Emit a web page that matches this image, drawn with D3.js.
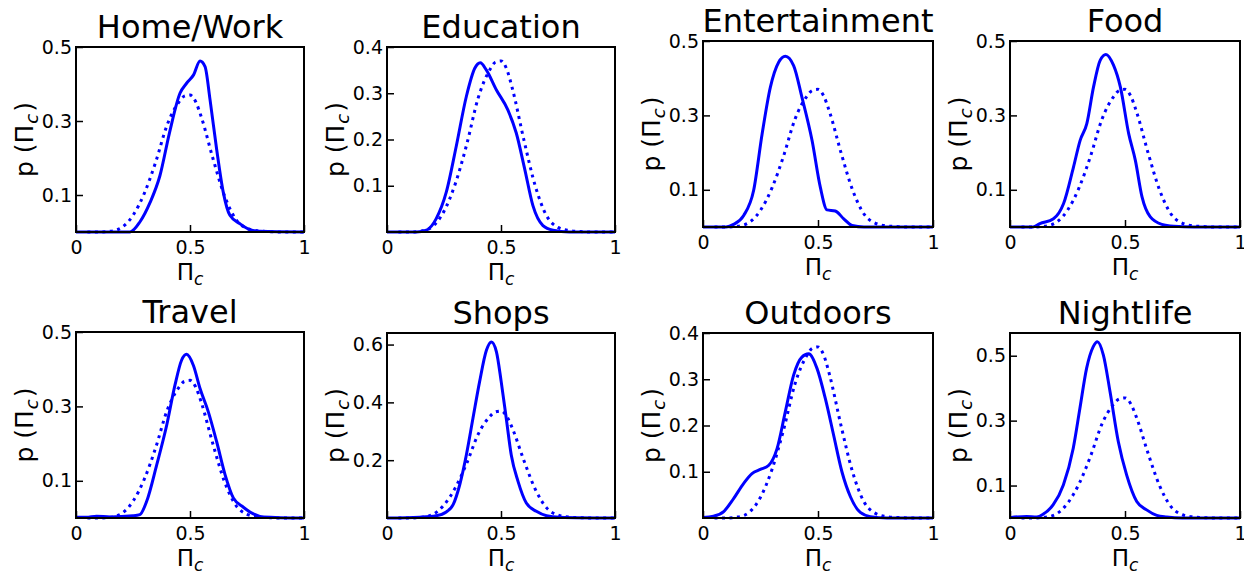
<!DOCTYPE html>
<html>
<head>
<meta charset="utf-8">
<script src="https://cdn.jsdelivr.net/npm/d3@7"></script>
<style>
  body { margin: 0; background: #fff; }
  svg { display: block; font-family: "DejaVu Sans", sans-serif; }
</style>
</head>
<body>
<svg id="chart" width="1244" height="571"></svg>
<script>
// panel titles
const titles = ['Home/Work', 'Education', 'Entertainment', 'Food', 'Travel', 'Shops', 'Outdoors', 'Nightlife'];

// y axis top and tick labels per panel
const yMax = [0.5, 0.4, 0.5, 0.5, 0.5, 0.64, 0.4, 0.57];
const yTicks = [
  [0.1, 0.3, 0.5], [0.1, 0.2, 0.3, 0.4], [0.1, 0.3, 0.5], [0.1, 0.3, 0.5],
  [0.1, 0.3, 0.5], [0.2, 0.4, 0.6], [0.1, 0.2, 0.3, 0.4], [0.1, 0.3, 0.5]
];
const xTicks = [0, 0.5, 1];

// null model (dotted), same in every panel
const nullX = [0.05, 0.1, 0.15, 0.2, 0.25, 0.3, 0.35, 0.4, 0.45, 0.475, 0.5, 0.525, 0.55, 0.6, 0.65, 0.7, 0.75, 0.8, 0.85, 0.9, 1];
const nullY = [0, 0, 0.002, 0.012, 0.045, 0.105, 0.19, 0.29, 0.35, 0.367, 0.37, 0.352, 0.31, 0.2, 0.1, 0.035, 0.01, 0.003, 0.001, 0, 0];

// observed densities (solid)
const homeWorkX = [0, 0.237, 0.28, 0.325, 0.368, 0.41, 0.456, 0.485, 0.515, 0.544, 0.566, 0.588, 0.617, 0.646, 0.675, 0.72, 0.763, 0.807, 1];
const homeWorkY = [0, 0, 0.027, 0.08, 0.152, 0.268, 0.375, 0.402, 0.424, 0.462, 0.447, 0.357, 0.223, 0.107, 0.045, 0.022, 0.006, 0.002, 0];

const educationX = [0, 0.13, 0.173, 0.216, 0.26, 0.304, 0.348, 0.385, 0.409, 0.436, 0.48, 0.53, 0.567, 0.604, 0.64, 0.684, 0.728, 0.8, 1];
const educationY = [0, 0, 0.004, 0.029, 0.086, 0.186, 0.293, 0.354, 0.366, 0.35, 0.307, 0.264, 0.214, 0.136, 0.057, 0.014, 0.004, 0, 0];

const entertainmentX = [0, 0.1, 0.133, 0.177, 0.22, 0.257, 0.293, 0.329, 0.358, 0.394, 0.43, 0.474, 0.51, 0.539, 0.575, 0.612, 0.648, 0.7, 1];
const entertainmentY = [0, 0, 0.007, 0.031, 0.098, 0.25, 0.376, 0.443, 0.459, 0.434, 0.349, 0.233, 0.107, 0.046, 0.043, 0.022, 0.004, 0, 0];

const foodX = [0, 0.1, 0.13, 0.189, 0.233, 0.276, 0.305, 0.334, 0.363, 0.392, 0.417, 0.45, 0.48, 0.516, 0.545, 0.574, 0.61, 0.66, 0.712, 0.8, 1];
const foodY = [0, 0, 0.009, 0.022, 0.063, 0.161, 0.233, 0.278, 0.376, 0.448, 0.464, 0.435, 0.376, 0.251, 0.179, 0.081, 0.027, 0.007, 0.002, 0, 0];

const travelX = [0, 0.045, 0.09, 0.15, 0.25, 0.28, 0.31, 0.354, 0.398, 0.434, 0.463, 0.485, 0.515, 0.544, 0.58, 0.617, 0.654, 0.69, 0.734, 0.778, 0.82, 1];
const travelY = [0.002, 0.002, 0.005, 0.003, 0.006, 0.009, 0.045, 0.143, 0.25, 0.357, 0.424, 0.44, 0.41, 0.348, 0.286, 0.205, 0.116, 0.054, 0.029, 0.011, 0.003, 0];

const shopsX = [0, 0.143, 0.216, 0.26, 0.29, 0.319, 0.348, 0.377, 0.406, 0.436, 0.458, 0.48, 0.501, 0.523, 0.545, 0.575, 0.611, 0.655, 0.7, 0.757, 1];
const shopsY = [0, 0.003, 0.008, 0.021, 0.046, 0.115, 0.218, 0.345, 0.471, 0.58, 0.609, 0.575, 0.471, 0.345, 0.218, 0.126, 0.052, 0.023, 0.008, 0.003, 0];

const outdoorsX = [0, 0.046, 0.09, 0.133, 0.177, 0.213, 0.249, 0.286, 0.322, 0.358, 0.394, 0.43, 0.459, 0.496, 0.532, 0.568, 0.604, 0.641, 0.684, 0.728, 0.8, 1];
const outdoorsY = [0.001, 0.004, 0.014, 0.042, 0.075, 0.096, 0.105, 0.114, 0.15, 0.23, 0.309, 0.348, 0.355, 0.323, 0.258, 0.179, 0.1, 0.046, 0.012, 0.003, 0, 0];

const nightlifeX = [0, 0.072, 0.116, 0.145, 0.188, 0.232, 0.275, 0.304, 0.333, 0.362, 0.38, 0.406, 0.435, 0.471, 0.507, 0.551, 0.594, 0.638, 0.681, 0.75, 1];
const nightlifeY = [0.001, 0.005, 0.003, 0.012, 0.041, 0.102, 0.215, 0.338, 0.461, 0.528, 0.543, 0.502, 0.389, 0.235, 0.133, 0.051, 0.025, 0.008, 0.003, 0, 0];

const seriesX = [homeWorkX, educationX, entertainmentX, foodX, travelX, shopsX, outdoorsX, nightlifeX];
const seriesY = [homeWorkY, educationY, entertainmentY, foodY, travelY, shopsY, outdoorsY, nightlifeY];

// plot boxes [left, top, width, height]
const boxes = [
  [76, 47, 228, 185], [387, 47, 228, 185], [703, 41, 230, 186], [1010, 41, 230, 186],
  [76, 332, 228, 186], [387, 333, 228, 185], [703, 333, 230, 185], [1010, 333, 230, 185]
];

const blue = '#0000ff';
const svg = d3.select('#chart');

titles.forEach((title, i) => {
  const [left, top, w, h] = boxes[i];
  const g = svg.append('g').attr('transform', 'translate(' + left + ',' + top + ')');

  const x = d3.scaleLinear().domain([0, 1]).range([0, w]);
  const y = d3.scaleLinear().domain([0, yMax[i]]).range([h, 0]);

  const line = d3.line()
    .x(d => x(d[0]))
    .y(d => y(d[1]))
    .curve(d3.curveMonotoneX);

  // observed
  g.append('path')
    .datum(d3.zip(seriesX[i], seriesY[i]))
    .attr('d', line)
    .attr('fill', 'none')
    .attr('stroke', blue)
    .attr('stroke-width', 3);

  // null model
  g.append('path')
    .datum(d3.zip(nullX, nullY))
    .attr('d', line)
    .attr('fill', 'none')
    .attr('stroke', blue)
    .attr('stroke-width', 3)
    .attr('stroke-dasharray', '3,4.5');

  // axes with inward ticks
  const xAxis = g.append('g')
    .attr('transform', 'translate(0,' + h + ')')
    .call(d3.axisBottom(x).tickValues(xTicks).tickSize(-7).tickPadding(10).tickFormat(d3.format('')));
  const yAxis = g.append('g')
    .call(d3.axisLeft(y).tickValues(yTicks[i]).tickSize(-7).tickPadding(10).tickFormat(d3.format('')));

  [xAxis, yAxis].forEach(a => {
    a.select('.domain').remove();
    a.selectAll('line').attr('stroke', '#000').attr('stroke-width', 1.5);
    a.selectAll('text').attr('fill', '#000').style('font-size', '19px').style('font-family', '"DejaVu Sans", sans-serif');
  });
  yAxis.selectAll('text').attr('x', -4);
  xAxis.selectAll('text').attr('y', 9);

  // frame
  g.append('rect')
    .attr('width', w).attr('height', h)
    .attr('fill', 'none').attr('stroke', '#000').attr('stroke-width', 2);

  // title
  g.append('text')
    .attr('x', w / 2).attr('y', -9)
    .attr('text-anchor', 'middle')
    .style('font-size', '32px')
    .text(title);

  // x label
  const xl = g.append('text')
    .attr('x', w / 2).attr('y', h + 48)
    .attr('text-anchor', 'middle')
    .style('font-size', '23px');
  xl.append('tspan').text('\u03A0');
  xl.append('tspan').attr('dy', 5).style('font-size', '17px').style('font-style', 'italic').text('c');

  // y label
  const yl = g.append('text')
    .attr('transform', 'translate(-43,' + (h / 2) + ') rotate(-90)')
    .attr('text-anchor', 'middle')
    .style('font-size', '25px');
  yl.append('tspan').text('p (\u03A0');
  yl.append('tspan').attr('dy', 5).attr('dx', 1).style('font-size', '18px').style('font-style', 'italic').text('c');
  yl.append('tspan').attr('dy', -5).attr('dx', 2).text(')');
});
</script>
</body>
</html>
